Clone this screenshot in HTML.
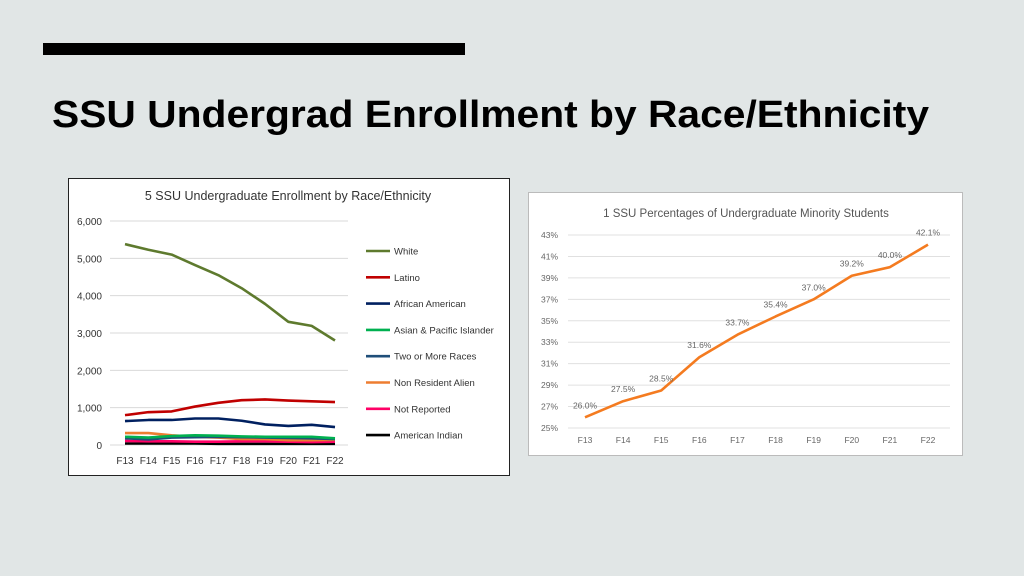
<!DOCTYPE html>
<html><head><meta charset="utf-8"><style>
html,body{margin:0;padding:0;background:#e1e6e6;}
svg{display:block;font-family:"Liberation Sans",sans-serif;}
</style></head><body>
<svg id="s" width="1024" height="576" viewBox="0 0 1024 576">
<rect x="0" y="0" width="1024" height="576" fill="#e1e6e6"/>
<rect x="43" y="43" width="422" height="12" fill="#000"/>
<text x="52" y="127" font-size="38" font-weight="bold" textLength="877" lengthAdjust="spacingAndGlyphs" fill="#000">SSU Undergrad Enrollment by Race/Ethnicity</text>
<g id="left">
<rect x="68.5" y="178.5" width="441" height="297" fill="#fff" stroke="#222" stroke-width="1"/>
<text x="288" y="200" font-size="12.5" text-anchor="middle" fill="#333">5 SSU Undergraduate Enrollment by Race/Ethnicity</text>
</g>
<g id="right">
<rect x="528.5" y="192.5" width="434" height="263" fill="#fff" stroke="#bbb" stroke-width="1"/>
<text x="746" y="217" font-size="11.5" text-anchor="middle" fill="#555">1 SSU Percentages of Undergraduate Minority Students</text>
</g>
</svg>
<script>
const years=["F13","F14","F15","F16","F17","F18","F19","F20","F21","F22"];
const yTicks=[0,1000,2000,3000,4000,5000,6000];
const seriesNames=["White","Latino","African American","Asian & Pacific Islander","Two or More Races","Non Resident Alien","Not Reported","American Indian"];
const white=[5380,5230,5100,4820,4550,4200,3780,3300,3190,2800];
const latino=[800,880,900,1030,1130,1200,1220,1190,1170,1150];
const africanAmerican=[640,670,670,710,710,650,550,510,540,480];
const asianPacific=[220,200,240,260,250,230,220,220,220,180];
const twoOrMore=[180,150,200,210,220,210,200,190,180,160];
const nonResident=[320,320,260,220,200,160,160,130,130,140];
const notReported=[110,100,100,90,90,100,100,90,80,90];
const americanIndian=[40,40,40,40,30,30,30,30,30,30];
const pctTicks=[25,27,29,31,33,35,37,39,41,43];
const pctValues=[26.0,27.5,28.5,31.6,33.7,35.4,37.0,39.2,40.0,42.1];

const NS="http://www.w3.org/2000/svg";
function mk(parent,tag,attrs,txt){const e=document.createElementNS(NS,tag);for(const k in attrs)e.setAttribute(k,attrs[k]);if(txt!==undefined)e.textContent=txt;parent.appendChild(e);return e;}
const L=document.getElementById('left'),R=document.getElementById('right');

// left chart
const lx=i=>125+i*(335-125)/(years.length-1);
const ly=v=>445-v*(445-221)/6000;
yTicks.forEach(t=>{
 const g=mk(L,'line',{x1:110,x2:348,y1:ly(t),y2:ly(t),stroke:'#d9d9d9','stroke-width':1});
 
 
 const tx=mk(L,'text',{x:102,y:ly(t)+4,'font-size':10,'text-anchor':'end',fill:'#333'},t.toLocaleString('en-US'));
 
 
});
years.forEach((y,i)=>{
 const tx=mk(L,'text',{x:lx(i),y:464,'font-size':10,'text-anchor':'middle',fill:'#333'},y);
 
 
});
const series=[white,latino,africanAmerican,asianPacific,twoOrMore,nonResident,notReported,americanIndian];
const colors=["#5e7a2e","#c00000","#002060","#00b050","#1f4e79","#ed7d31","#ff0066","#000000"];
const keys=["white","latino","african-american","asian-pacific-islander","two-or-more-races","non-resident-alien","not-reported","american-indian"];
for(let s=series.length-1;s>=0;s--){
 const p=mk(L,'polyline',{points:series[s].map((v,i)=>lx(i)+','+ly(v)).join(' '),fill:'none',stroke:colors[s],'stroke-width':2.6,'stroke-linejoin':'round'});
 
 
}
seriesNames.forEach((n,s)=>{
 const yy=251+s*26.3;
 const ln=mk(L,'line',{x1:366,x2:390,y1:yy,y2:yy,stroke:colors[s],'stroke-width':2.6});
 
 
 const tx=mk(L,'text',{x:394,y:yy+3.5,'font-size':9.5,fill:'#333'},n);
 
 
});

// right chart
const rx=i=>585+i*(928-585)/(years.length-1);
const ry=v=>428-(v-25)*(428-235)/18;
pctTicks.forEach(t=>{
 const g=mk(R,'line',{x1:568,x2:950,y1:ry(t),y2:ry(t),stroke:'#e0e0e0','stroke-width':1});
 
 
 const tx=mk(R,'text',{x:558,y:ry(t)+3,'font-size':8.5,'text-anchor':'end',fill:'#666'},t+'%');
 
 
});
years.forEach((y,i)=>{
 const tx=mk(R,'text',{x:rx(i),y:443,'font-size':8.5,'text-anchor':'middle',fill:'#666'},y);
 
 
});
const pl=mk(R,'polyline',{points:pctValues.map((v,i)=>rx(i)+','+ry(v)).join(' '),fill:'none',stroke:'#f47b20','stroke-width':2.6,'stroke-linejoin':'round'});


pctValues.forEach((v,i)=>{
 const tx=mk(R,'text',{x:rx(i),y:ry(v)-9,'font-size':8.5,'text-anchor':'middle',fill:'#666'},v.toFixed(1)+'%');
 
 
});
</script>
</body></html>
